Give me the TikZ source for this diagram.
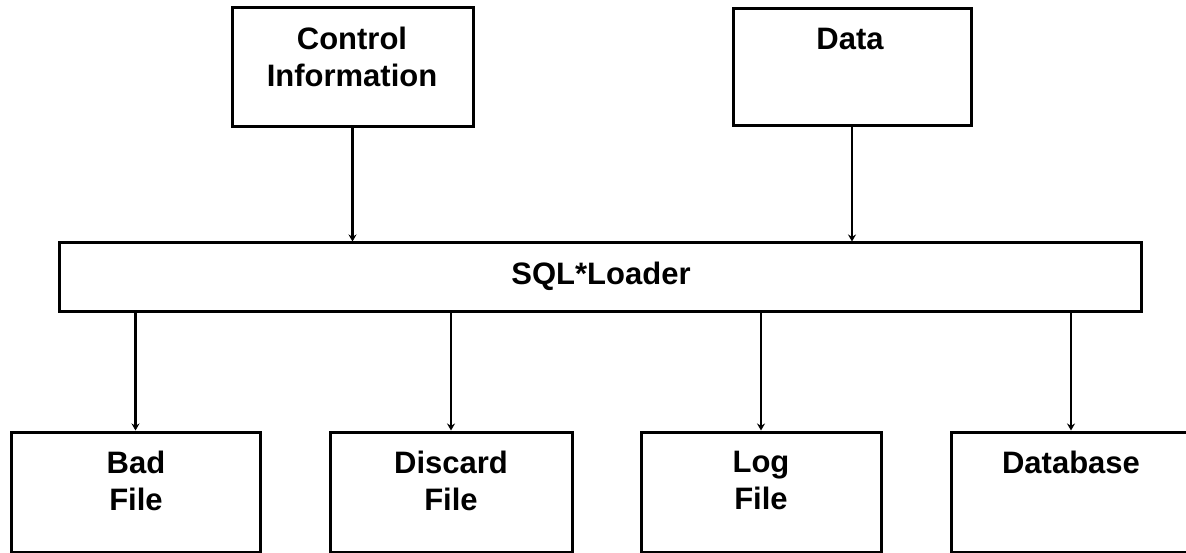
\documentclass[tikz,border=0pt]{standalone}
\usepackage{fontspec}
\setmainfont{Liberation Sans}
\usetikzlibrary{arrows.meta}
\begin{document}
\begin{tikzpicture}[x=1pt,y=-1pt,
  box/.style={draw, line width=3pt, inner sep=0pt},
  lbl/.style={font=\fontsize{31}{37}\selectfont\bfseries, align=center, anchor=north, inner sep=0pt},
  conn/.style={line width=2.8pt, -{Stealth[length=7pt,width=8pt]}}]
\useasboundingbox (0,0) rectangle (1186,553);
% boxes
\node[box, minimum width=241pt, minimum height=119pt] (ctrl) at (352.5,67.5) {};
\node[box, minimum width=238pt, minimum height=117pt] (data) at (852,67.5) {};
\node[box, minimum width=1082pt, minimum height=69pt] (sql) at (600,277.5) {};
\node[box, minimum width=249pt, minimum height=120pt] (bad) at (135.5,492) {};
\node[box, minimum width=242pt, minimum height=120pt] (discard) at (451,492) {};
\node[box, minimum width=240pt, minimum height=120pt] (log) at (761,492) {};
\node[box, minimum width=240pt, minimum height=120pt] (db) at (1071,492) {};
% texts
\node[lbl] (ctrlT) at (352,27) {Control\\Information};
\node[lbl] (dataT) at (850,28) {Data};
\node[lbl] (sqlT) at (601,262) {SQL*Loader};
\node[lbl] (badT) at (136,451) {Bad\\File};
\node[lbl] (discardT) at (451,451) {Discard\\File};
\node[lbl] (logT) at (761,451) {Log\\File};
\node[lbl] (dbT) at (1071,451) {Database};
% connectors
\draw[conn] (ctrl.south) -- (ctrl.south |- sql.north);
\draw[conn] (data.south) -- (data.south |- sql.north);
\draw[conn] (sql.south -| bad.north) -- (bad.north);
\draw[conn] (sql.south -| discard.north) -- (discard.north);
\draw[conn] (sql.south -| log.north) -- (log.north);
\draw[conn] (sql.south -| db.north) -- (db.north);
\end{tikzpicture}
\end{document}
